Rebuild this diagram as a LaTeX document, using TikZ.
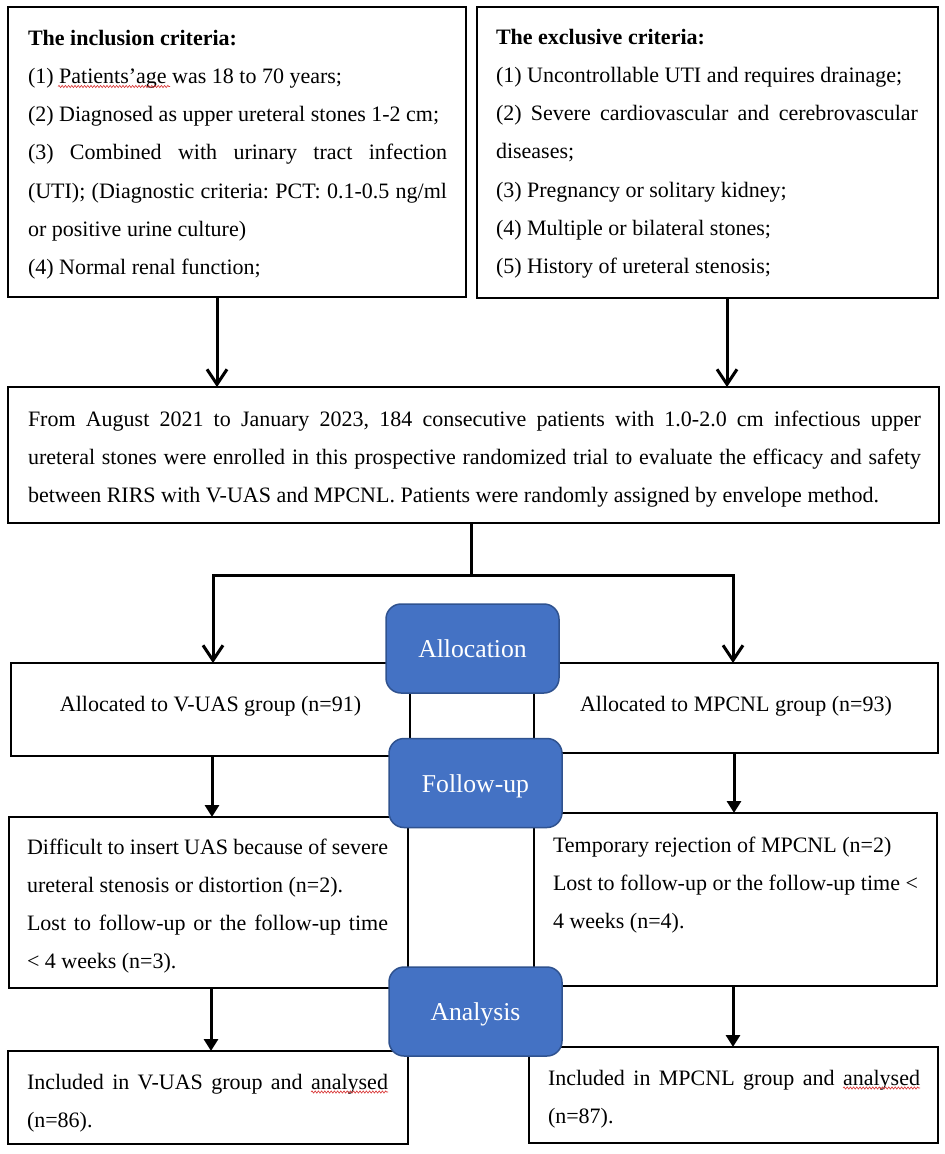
\documentclass[tikz,border=0pt]{standalone}
\usepackage{fontspec}
\setmainfont{Liberation Serif}
\usetikzlibrary{arrows.meta,decorations.pathmorphing,calc}
\definecolor{bluefill}{HTML}{4472C4}
\definecolor{blueedge}{HTML}{2F528F}
\definecolor{squig}{HTML}{D83030}
\hyphenpenalty=10000
\exhyphenpenalty=10000
\frenchspacing
\begin{document}
\begin{tikzpicture}[x=1bp,y=-1bp,
  frame/.style={draw=black, line width=1.4bp, inner sep=0pt, outer sep=0pt},
  txt/.style={inner sep=0pt, outer sep=0pt, anchor=north west, align=justify,
    font=\fontsize{22bp}{38.3bp}\selectfont},
  ctxt/.style={inner sep=0pt, outer sep=0pt, anchor=base,
    font=\fontsize{22bp}{38.3bp}\selectfont},
  stage/.style={draw=blueedge, fill=bluefill, line width=1.5bp, rounded corners=15bp,
    minimum width=173bp, minimum height=89bp, inner sep=0pt, text=white,
    text height=18bp, text depth=0bp, font=\fontsize{25.7bp}{30bp}\selectfont},
  openarrow/.style={line width=3bp, -{Straight Barb[length=15bp,width=20bp]}},
  fillarrow/.style={line width=3bp, -{Triangle[length=12bp,width=14bp]}},
  thickline/.style={line width=3bp},
  squiggle/.style={draw=squig, line width=0.6bp,
    decorate, decoration={snake, amplitude=1.1bp, segment length=3.2bp}}
]
\useasboundingbox (0,0) rectangle (945,1154);
\fill[white] (0,0) rectangle (945,1154);

% boxes
\node[frame, minimum width=458bp, minimum height=290bp] (inc) at (237,152) {};
\node[frame, minimum width=461bp, minimum height=291bp] (exc) at (707.5,152.5) {};
\node[frame, minimum width=931bp, minimum height=136bp] (mid) at (473.5,455) {};
\node[frame, minimum width=399bp, minimum height=93bp] (allocL) at (210.5,709.5) {};
\node[frame, minimum width=404bp, minimum height=90bp] (allocR) at (736,708) {};
\node[frame, minimum width=399bp, minimum height=171bp] (fuL) at (208.5,902.5) {};
\node[frame, minimum width=403bp, minimum height=173bp] (fuR) at (735.5,899.5) {};
\node[frame, minimum width=400bp, minimum height=93bp] (anL) at (208,1097.5) {};
\node[frame, minimum width=409bp, minimum height=96bp] (anR) at (733.5,1095) {};

% texts
\node[txt, text width=419bp] (incT) at (28,25) {\parindent0pt\rule{0pt}{20bp}\textbf{The inclusion criteria:}\par
(1) Patients’age was 18 to 70 years;\par
(2) Diagnosed as upper ureteral stones 1-2 cm;\par
(3) Combined with urinary tract infection\linebreak (UTI); (Diagnostic criteria: PCT: 0.1-0.5 ng/ml\linebreak or positive urine culture)\par
(4) Normal renal function;};

\node[txt, text width=422bp] (excT) at (496,24) {\parindent0pt\rule{0pt}{20bp}\textbf{The exclusive criteria:}\par
(1) Uncontrollable UTI and requires drainage;\par
(2) Severe cardiovascular and cerebrovascular\linebreak diseases;\par
(3) Pregnancy or solitary kidney;\par
(4) Multiple or bilateral stones;\par
(5) History of ureteral stenosis;};

\node[txt, text width=893bp] (midT) at (28,406) {\parindent0pt\rule{0pt}{20bp}From August 2021 to January 2023, 184 consecutive patients with 1.0-2.0 cm infectious upper\linebreak ureteral stones were enrolled in this prospective randomized trial to evaluate the efficacy and safety\linebreak between RIRS with V-UAS and MPCNL. Patients were randomly assigned by envelope method.};

\node[ctxt] (allocLT) at (210.5,711) {Allocated to V-UAS group (n=91)};
\node[ctxt] (allocRT) at (736,711) {Allocated to MPCNL group (n=93)};

\node[txt, text width=361bp] (fuLT) at (27,834) {\parindent0pt\rule{0pt}{20bp}Difficult to insert UAS because of severe\linebreak ureteral stenosis or distortion (n=2).\par
Lost to follow-up or the follow-up time\linebreak < 4 weeks (n=3).};

\node[txt, text width=375bp] (fuRT) at (553,832) {\parindent0pt\rule{0pt}{20bp}Temporary rejection of MPCNL (n=2)\par
Lost to follow-up or the follow-up time <\newline 4 weeks (n=4).};

\node[txt, text width=361bp] (anLT) at (27,1069) {\parindent0pt\rule{0pt}{20bp}Included in V-UAS group and analysed\linebreak (n=86).};
\node[txt, text width=372bp] (anRT) at (548,1065) {\parindent0pt\rule{0pt}{20bp}Included in MPCNL group and analysed\linebreak (n=87).};

% spell-check squiggles
\draw[squiggle] (58,86.5) -- (170,86.5);
\draw[squiggle] (311,1092) -- (388,1092);
\draw[squiggle] (843,1088) -- (920,1088);

% connectors
\draw[openarrow] ([xshift=-20bp]inc.south) -- ([xshift=-20bp]inc.south |- mid.north);
\draw[openarrow] ([xshift=19.5bp]exc.south) -- ([xshift=19.5bp]exc.south |- mid.north);

\coordinate (barL) at (213,575);
\coordinate (barR) at (733,575);
\draw[thickline] ([xshift=-2bp]mid.south) -- ([xshift=-2bp]mid.south |- barL);
\draw[openarrow] (barR) -- (barL) -- (barL |- allocL.north);
\draw[openarrow] (barL) -- (barR) -- (barR |- allocR.north);

\draw[fillarrow] ([xshift=1.5bp]allocL.south) -- ([xshift=1.5bp]allocL.south |- fuL.north);
\draw[fillarrow] ([xshift=-2bp]allocR.south) -- ([xshift=-2bp]allocR.south |- fuR.north);
\draw[fillarrow] ([xshift=2.5bp]fuL.south) -- ([xshift=2.5bp]fuL.south |- anL.north);
\draw[fillarrow] ([xshift=-2.5bp]fuR.south) -- ([xshift=-2.5bp]fuR.south |- anR.north);

% stage labels
\node[stage] (sAlloc) at (472.5,648.5) {Allocation};
\node[stage] (sFollow) at (475.5,783) {Follow-up};
\node[stage] (sAnal) at (475.5,1011.5) {Analysis};
\end{tikzpicture}
\end{document}
